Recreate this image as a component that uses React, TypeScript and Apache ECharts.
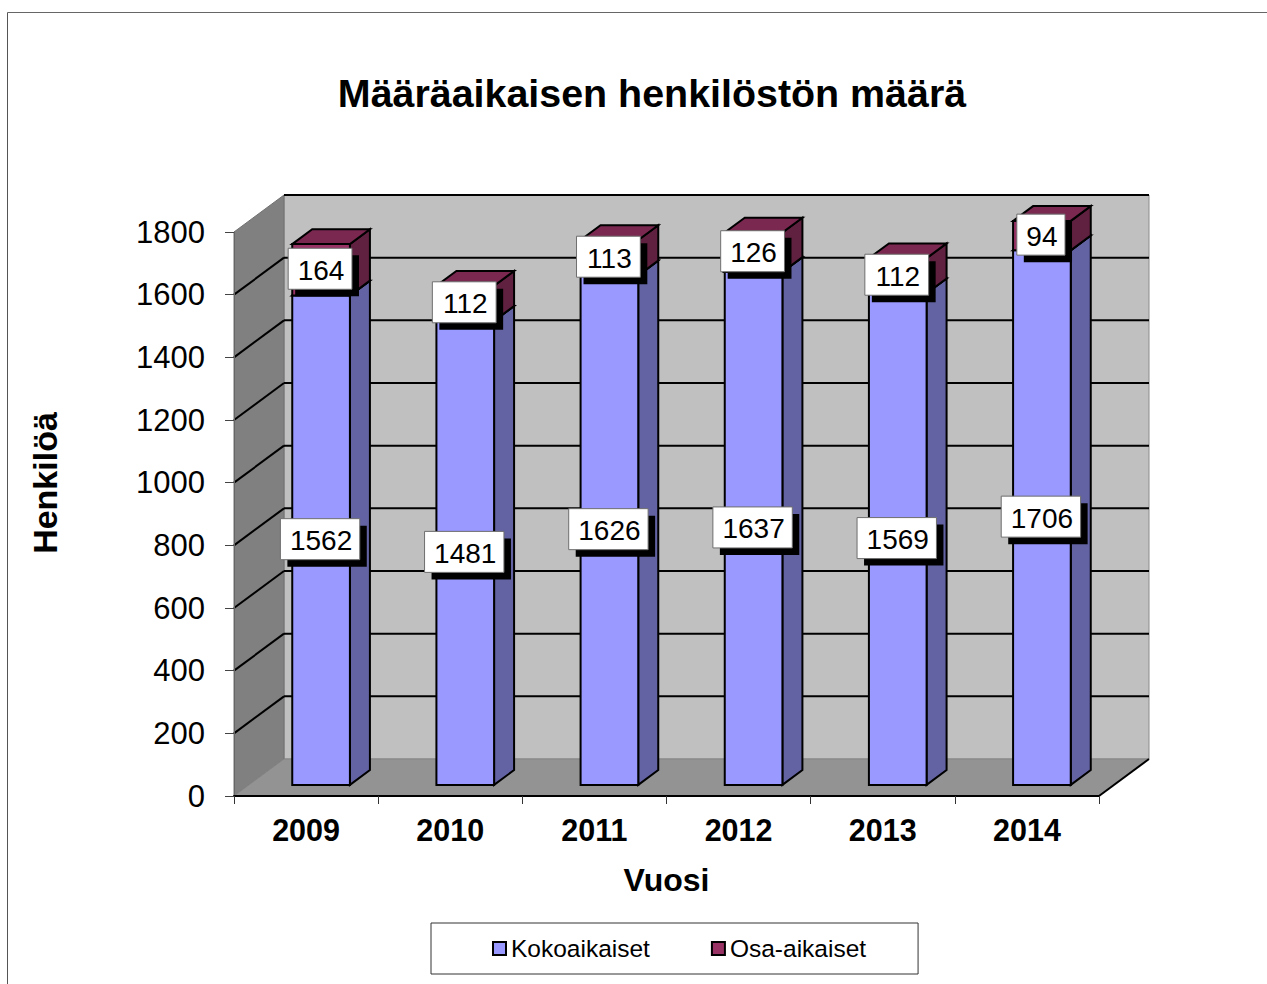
import React, { useEffect, useRef } from "react";
import * as echarts from "echarts";

const categories = ["2009", "2010", "2011", "2012", "2013", "2014"];
const kokoaikaiset = [1562, 1481, 1626, 1637, 1569, 1706];
const osaAikaiset = [164, 112, 113, 126, 112, 94];
const yTicks = [0, 200, 400, 600, 800, 1000, 1200, 1400, 1600, 1800];
const FONT = "Liberation Sans";

const DX = 50;
const DY = -37;
const FRONT = 0.3;
const BACK = 0.7;
const HALF = 0.2;

function poly(points: number[][], fill: string, stroke: string, lineWidth = 2) {
  return {
    type: "polygon",
    shape: { points },
    style: { fill, stroke, lineWidth, lineJoin: "miter" },
  };
}

function barRenderer(front: string, side: string, top: string) {
  return (_p: any, api: any) => {
    const cat = api.value(0);
    const [cx, y0] = api.coord([cat, api.value(1)]);
    const [, y1] = api.coord([cat, api.value(2)]);
    const hw = api.size([1, 0])[0] * HALF;
    const fx = DX * FRONT, fy = DY * FRONT;
    const d = BACK - FRONT;
    const l = cx + fx - hw, r = cx + fx + hw;
    const b = y0 + fy, t = y1 + fy;
    const ox = DX * d, oy = DY * d;
    return {
      type: "group",
      children: [
        poly([[r, b], [r + ox, b + oy], [r + ox, t + oy], [r, t]], side, "#000"),
        poly([[l, t], [r, t], [r + ox, t + oy], [l + ox, t + oy]], top, "#000"),
        poly([[l, b], [r, b], [r, t], [l, t]], front, "#000"),
      ],
    };
  };
}

function labelRenderer(_p: any, api: any) {
  const cat = api.value(0);
  const base = api.value(1);
  const size = api.value(2);
  const [cx, yy] = api.coord([cat, base + size / 2]);
  const x = cx + DX * FRONT;
  const y = yy + DY * FRONT;
  const text = String(size);
  const w = text.length * 15.6 + 17;
  const h = 41;
  return {
    type: "group",
    children: [
      { type: "rect", shape: { x: x - w / 2 + 6, y: y - h / 2 + 6, width: w, height: h }, style: { fill: "#000" } },
      { type: "rect", shape: { x: x - w / 2 - 1, y: y - h / 2 - 1, width: w, height: h }, style: { fill: "#fff", stroke: "#6e6e6e", lineWidth: 1 } },
      {
        type: "text",
        x,
        y: y + 0.5,
        style: { text, fill: "#000", font: `28px "${FONT}"`, align: "center", verticalAlign: "middle" },
      },
    ],
  };
}

function wallRenderer(p: any, api: any) {
  const c = p.coordSys;
  const [, yb] = api.coord([0, 0]);
  const [, yt] = api.coord([0, 1800]);
  const xl = c.x, xr = c.x + c.width;
  return {
    type: "group",
    children: [
      poly([[xl + DX, yb + DY], [xr + DX, yb + DY], [xr + DX, yt + DY], [xl + DX, yt + DY]], "#c0c0c0", "#8c8c8c", 1),
      poly([[xl, yb], [xl + DX, yb + DY], [xl + DX, yt + DY], [xl, yt]], "#808080", "#707070", 1),
      poly([[xl, yb], [xr, yb], [xr + DX, yb + DY], [xl + DX, yb + DY]], "#939393", "#858585", 1),
      { type: "line", shape: { x1: xr, y1: yb, x2: xr + DX, y2: yb + DY }, style: { stroke: "#000", lineWidth: 2 } },
    ],
  };
}

function gridRenderer(p: any, api: any) {
  const v = api.value(0);
  if (v === 0) return { type: "group", children: [] };
  const c = p.coordSys;
  const [, y] = api.coord([0, v]);
  const xl = c.x, xr = c.x + c.width;
  const children: any[] = [
    { type: "line", shape: { x1: xl + DX, y1: y + DY, x2: xr + DX, y2: y + DY }, style: { stroke: "#000", lineWidth: 2 } },
  ];
  if (v < 1800) {
    children.push({ type: "line", shape: { x1: xl, y1: y, x2: xl + DX, y2: y + DY }, style: { stroke: "#000", lineWidth: 2 } });
  }
  return { type: "group", children };
}

export default function App() {
  const ref = useRef<HTMLDivElement>(null);
  useEffect(() => {
    document.body.style.margin = "0";
    const chart = echarts.init(ref.current!, null, { renderer: "svg" });
    const cum = kokoaikaiset.map((v, i) => v + osaAikaiset[i]);
    chart.setOption({
      animation: false,
      backgroundColor: "#fff",
      textStyle: { fontFamily: FONT },
      title: {
        text: "Määräaikaisen henkilöstön määrä",
        left: 647,
        top: 68,
        textAlign: "center",
        textStyle: { fontFamily: FONT, fontSize: 39.4, fontWeight: "bold", color: "#000" },
      },
      grid: { left: 234, top: 232, width: 865, height: 564, containLabel: false },
      xAxis: {
        type: "category",
        data: categories,
        z: 3,
        name: "Vuosi",
        nameLocation: "middle",
        nameGap: 68,
        nameTextStyle: { fontFamily: FONT, fontSize: 32, fontWeight: "bold", color: "#000" },
        axisLine: { lineStyle: { color: "#000", width: 2 } },
        axisTick: { show: true, length: 8, alignWithLabel: false, lineStyle: { color: "#333", width: 1 } },
        axisLabel: { margin: 18, fontFamily: FONT, fontSize: 30.5, fontWeight: "bold", color: "#000" },
      },
      yAxis: {
        type: "value",
        min: 0,
        max: 1800,
        interval: 200,
        z: 3,
        splitLine: { show: false },
        axisLine: { show: true, lineStyle: { color: "#666", width: 1 } },
        axisTick: { show: true, length: 9, lineStyle: { color: "#444", width: 1 } },
        axisLabel: { margin: 29, fontFamily: FONT, fontSize: 31, color: "#000", formatter: (v: number) => String(v) },
      },
      legend: {
        left: 431,
        top: 923,
        orient: "horizontal",
        icon: "rect",
        itemWidth: 13,
        itemHeight: 13,
        itemGap: 61,
        padding: [13, 52, 13, 61],
        borderColor: "#333",
        borderWidth: 1,
        backgroundColor: "#fff",
        textStyle: { fontFamily: FONT, fontSize: 24.5, color: "#000" },
        data: [
          { name: "Kokoaikaiset", itemStyle: { color: "#9999ff", borderColor: "#000", borderWidth: 2 } },
          { name: "Osa-aikaiset", itemStyle: { color: "#993366", borderColor: "#000", borderWidth: 2 } },
        ],
      },
      graphic: [
        { type: "line", silent: true, shape: { x1: 7.5, y1: 12.5, x2: 1267, y2: 12.5 }, style: { stroke: "#666", lineWidth: 1 } },
        { type: "line", silent: true, shape: { x1: 7.5, y1: 12.5, x2: 7.5, y2: 984 }, style: { stroke: "#555", lineWidth: 1 } },
        {
          type: "text",
          x: 45,
          y: 483,
          rotation: Math.PI / 2,
          style: { text: "Henkilöä", fill: "#000", font: `bold 34px "${FONT}"`, align: "center", verticalAlign: "middle" },
        },
      ],
      series: [
        { type: "custom", name: "walls", z: 1, silent: true, data: [[0]], renderItem: wallRenderer },
        { type: "custom", name: "gridlines", z: 2, silent: true, data: yTicks.map((v) => [v]), renderItem: gridRenderer },
        {
          type: "custom",
          name: "Kokoaikaiset",
          z: 4,
          itemStyle: { color: "#9999ff" },
          data: kokoaikaiset.map((v, i) => [i, 0, v]),
          renderItem: barRenderer("#9999ff", "#6363a3", "#7d7dd0"),
        },
        {
          type: "custom",
          name: "Osa-aikaiset",
          z: 5,
          itemStyle: { color: "#993366" },
          data: osaAikaiset.map((_, i) => [i, kokoaikaiset[i], cum[i]]),
          renderItem: barRenderer("#993366", "#60203f", "#7a2850"),
        },
        {
          type: "custom",
          name: "labels-koko",
          z: 6,
          silent: true,
          data: kokoaikaiset.map((v, i) => [i, 0, v]),
          renderItem: labelRenderer,
        },
        {
          type: "custom",
          name: "labels-osa",
          z: 6,
          silent: true,
          data: osaAikaiset.map((v, i) => [i, kokoaikaiset[i], v]),
          renderItem: labelRenderer,
        },
      ],
    });
    return () => chart.dispose();
  }, []);
  return <div ref={ref} style={{ position: "absolute", left: 0, top: 0, width: 1267, height: 984 }} />;
}
